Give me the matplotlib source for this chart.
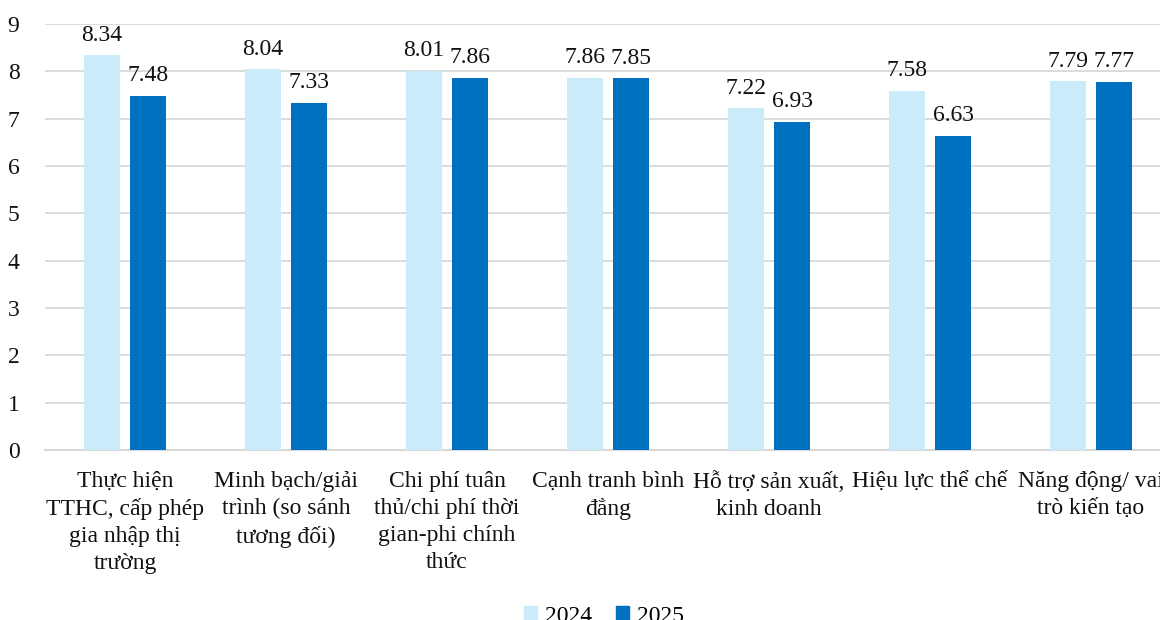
import numpy as np
import matplotlib
matplotlib.use("Agg")
import matplotlib.pyplot as plt
from matplotlib.patches import Patch

# data ----------------------------------
categories = [
    "Thực hiện\nTTHC, cấp phép\ngia nhập thị\ntrường",
    "Minh bạch/giải\ntrình (so sánh\ntương đối)",
    "Chi phí tuân\nthủ/chi phí thời\ngian-phi chính\nthức",
    "Cạnh tranh bình\nđẳng",
    "Hỗ trợ sản xuất,\nkinh doanh",
    "Hiệu lực thể chế",
    "Năng động/ vai\ntrò kiến tạo",
]
series_names = ["2024", "2025"]
values_2024 = [8.34, 8.04, 8.01, 7.86, 7.22, 7.58, 7.79]
values_2025 = [7.48, 7.33, 7.86, 7.85, 6.93, 6.63, 7.77]
y_ticks = list(range(0, 10))

c_2024 = "#CAECFA"
c_2025 = "#0070C0"

plt.rcParams['font.family'] = ['Liberation Serif', 'DejaVu Serif']
fs = 17

W, H = 1160, 620
fig = plt.figure(figsize=(W / 100, H / 100), dpi=100)
# axes runs past the right edge, like the cropped original
left, right = 44.5 / W, 1171.5 / W
top, bottom = 1 - 24 / H, 1 - 450 / H
ax = fig.add_axes([left, bottom, right - left, top - bottom])

x = np.arange(len(categories))
bw = 0.224
off = 0.143
b1 = ax.bar(x - off, values_2024, bw, color=c_2024, zorder=3)
b2 = ax.bar(x + off, values_2025, bw, color=c_2025, zorder=3)

for bars in (b1, b2):
    for rect in bars:
        h = rect.get_height()
        ax.annotate(f"{h:.2f}", (rect.get_x() + rect.get_width() / 2, h),
                    xytext=(0, 7), textcoords="offset points",
                    ha="center", va="bottom", fontsize=fs, color="#111111")

ax.set_xlim(-0.5, len(categories) - 0.5)
ax.set_ylim(0, 9)
ax.set_yticks(y_ticks)
ax.set_xticks(x)
ax.set_xticklabels(categories, fontsize=fs, linespacing=1.38, color="#111111")
ax.tick_params(axis="y", labelsize=fs, length=0, pad=18, colors="#111111")
ax.tick_params(axis="x", length=0, pad=15)

ax.grid(axis="y", color="#D9D9D9", linewidth=1.3, zorder=0)
for s in ["top", "right", "left"]:
    ax.spines[s].set_visible(False)
ax.spines["bottom"].set_color("#D9D9D9")
ax.spines["bottom"].set_linewidth(1.5)

handles = [Patch(color=c_2024), Patch(color=c_2025)]
fig.legend(handles, series_names, loc="center", bbox_to_anchor=(604 / W, 1 - 616 / H),
           ncol=2, frameon=False, fontsize=fs, handlelength=0.55, handleheight=0.55,
           handletextpad=0.35, columnspacing=1.0)

fig.savefig("out.png", dpi=100)
